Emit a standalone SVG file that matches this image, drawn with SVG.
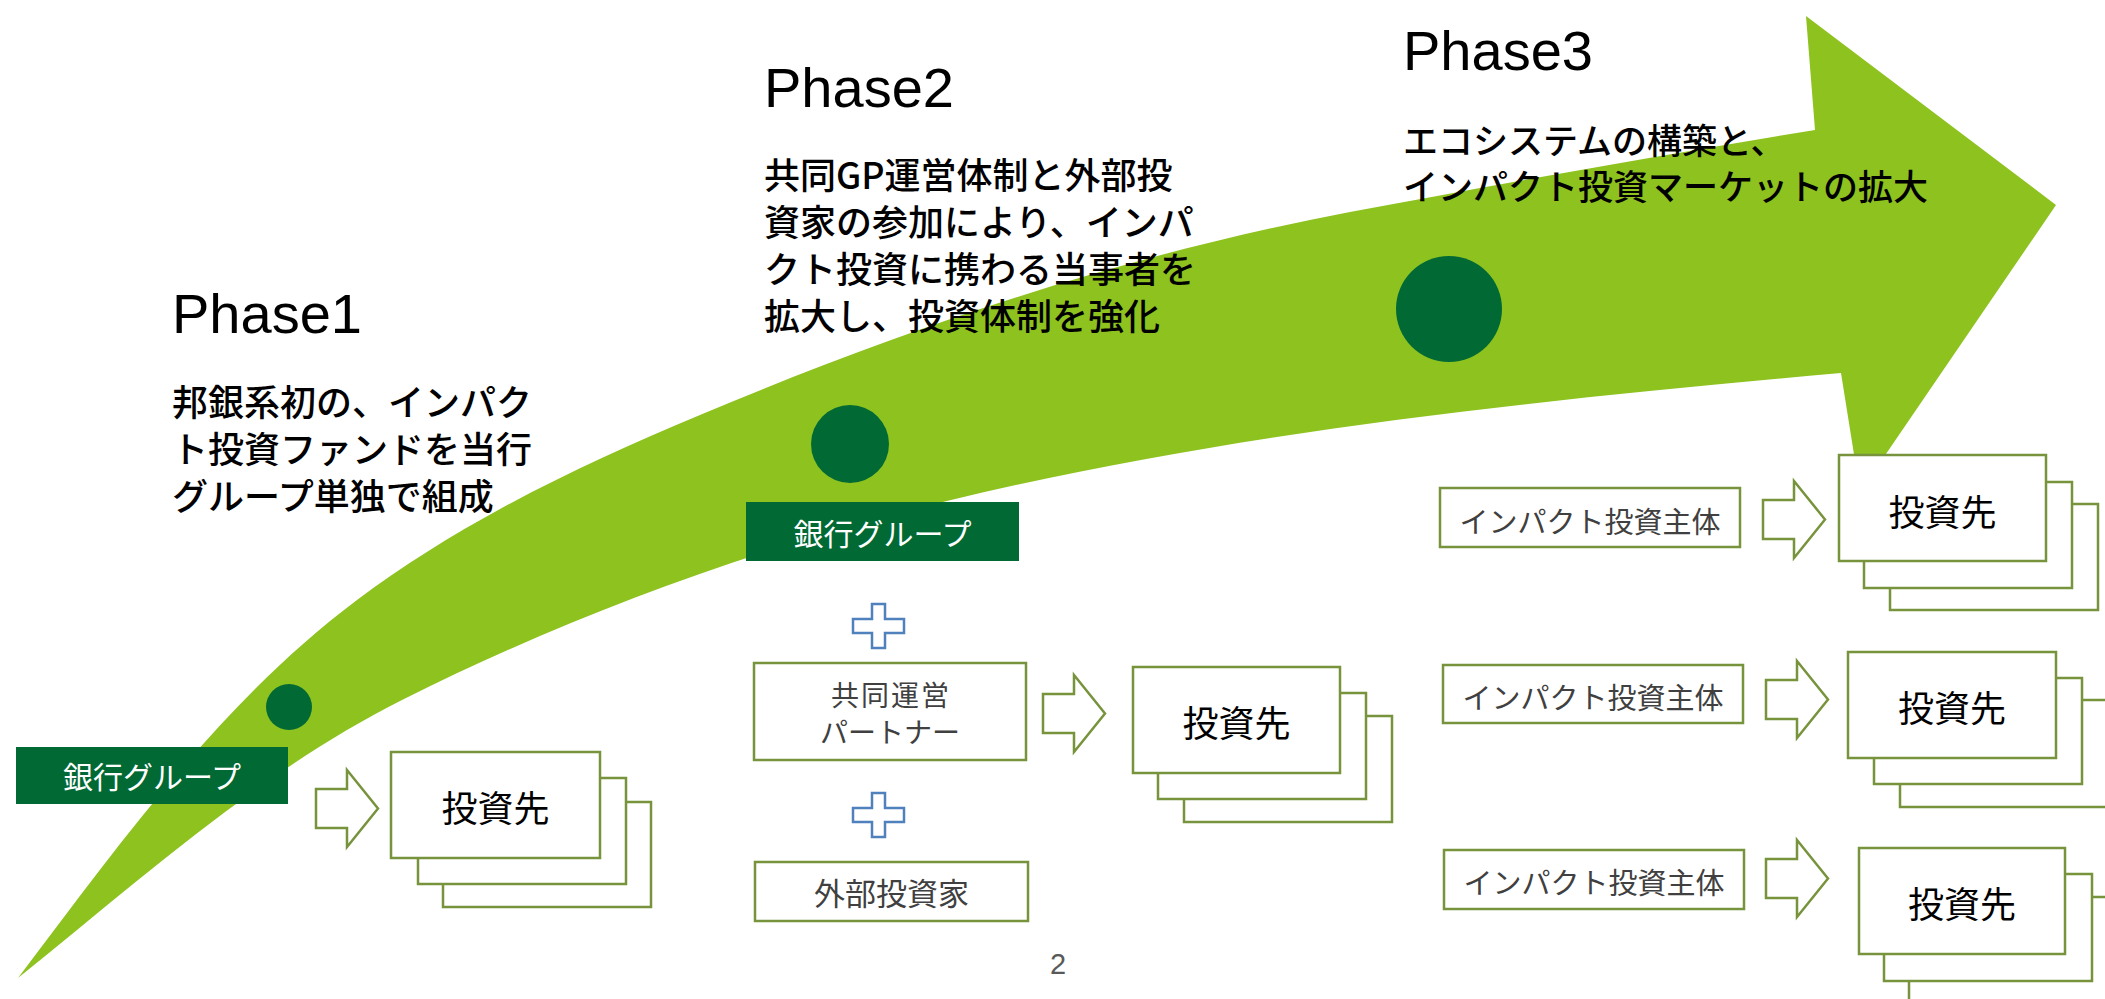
<svg xmlns="http://www.w3.org/2000/svg" width="2105" height="999" viewBox="0 0 2105 999">
<defs>
<style>
.ph{font-family:"Liberation Sans","Noto Sans CJK JP",sans-serif;font-size:56px;fill:#000;}
.desc{font-family:"Noto Sans CJK JP","Liberation Sans",sans-serif;font-size:36px;font-weight:500;fill:#000;}
.bank{fill:#006934;}
.banktxt{font-family:"Noto Sans CJK JP",sans-serif;font-size:30px;fill:#fff;text-anchor:middle;}
.box{fill:#fff;stroke:#77933C;stroke-width:2.5;}
.boxtxt{font-family:"Noto Sans CJK JP",sans-serif;font-size:30px;fill:#404040;text-anchor:middle;}
.inv{font-family:"Noto Sans CJK JP",sans-serif;font-size:36px;fill:#000;text-anchor:middle;}
.harrow{fill:#fff;stroke:#77933C;stroke-width:2.5;stroke-linejoin:miter;}
.plus{fill:#fff;stroke:#4F81BD;stroke-width:2.5;}
.dot{fill:#006934;}
</style>
<path id="ha" d="M0,19 H31 V0 L62,38.5 L31,77 V58 H0 Z"/>
<path id="pl" d="M19,0 H32 V15 H51 V29 H32 V44 H19 V29 H0 V15 H19 Z"/>
</defs>
<rect width="2105" height="999" fill="#fff"/>

<g id="big-arrow">
<path fill="#8DC21F" d="M18,978 C120,843 222,701 357,600 C461,522 580,465 700,415 C909,327 1127,254 1350,212 C1500,184 1660,155 1815,130 L1806,16 L2056,205 L1860,492 L1841,373 C1542,400 1242,430 951,500 C761,545 576,613 402,700 C261,771 141,879 18,978 Z"/>
</g>

<g id="dots">
<circle class="dot" cx="289" cy="707" r="23"/>
<circle class="dot" cx="850" cy="444" r="39"/>
<circle class="dot" cx="1449" cy="309" r="53"/>
</g>

<g id="phase1-title">
<text class="ph" x="172" y="333">Phase1</text>
<text class="desc"><tspan x="172" y="416">邦銀系初の、インパク</tspan><tspan x="172" y="463">ト投資ファンドを当行</tspan><tspan x="172" y="510">グループ単独で組成</tspan></text>
</g>

<g id="phase2-title">
<text class="ph" x="764" y="107">Phase2</text>
<text class="desc"><tspan x="764" y="189">共同GP運営体制と外部投</tspan><tspan x="764" y="236">資家の参加により、インパ</tspan><tspan x="764" y="283">クト投資に携わる当事者を</tspan><tspan x="764" y="330">拡大し、投資体制を強化</tspan></text>
</g>

<g id="phase3-title">
<text class="ph" x="1403" y="70">Phase3</text>
<text class="desc" style="font-size:35px"><tspan x="1403" y="154">エコシステムの構築と、</tspan><tspan x="1403" y="200">インパクト投資マーケットの拡大</tspan></text>
</g>

<g id="p1-bank">
<rect class="bank" x="16" y="747" width="272" height="57"/>
<text class="banktxt" x="152" y="788">銀行グループ</text>
</g>

<g id="p1-investees">
<rect class="box" x="443" y="802" width="208" height="105"/>
<rect class="box" x="418" y="778" width="208" height="106"/>
<rect class="box" x="391" y="752" width="209" height="106"/>
<text class="inv" x="495.5" y="822">投資先</text>
</g>

<g id="p2-bank">
<rect class="bank" x="746" y="502" width="273" height="59"/>
<text class="banktxt" x="882.5" y="545">銀行グループ</text>
</g>

<g id="p2-partner">
<rect class="box" x="754" y="663" width="272" height="97"/>
<text class="boxtxt" style="font-size:28px"><tspan x="891" y="706" letter-spacing="2">共同運営</tspan><tspan x="890" y="743">パートナー</tspan></text>
</g>

<g id="p2-investor">
<rect class="box" x="755" y="862" width="273" height="59"/>
<text class="boxtxt" x="891.5" y="905" style="font-size:31px">外部投資家</text>
</g>

<g id="p2-investees">
<rect class="box" x="1184" y="716" width="208" height="106"/>
<rect class="box" x="1158" y="693" width="208" height="106"/>
<rect class="box" x="1133" y="667" width="207" height="106"/>
<text class="inv" x="1236.5" y="737">投資先</text>
</g>

<g id="p3-entity1">
<rect class="box" x="1440" y="488" width="300" height="59"/>
<text class="boxtxt" x="1590" y="533" style="font-size:29px">インパクト投資主体</text>
</g>
<g id="p3-investees1">
<rect class="box" x="1890" y="504" width="208" height="106"/>
<rect class="box" x="1864" y="482" width="208" height="106"/>
<rect class="box" x="1839" y="455" width="207" height="106"/>
<text class="inv" x="1942.5" y="526">投資先</text>
</g>

<g id="p3-entity2">
<rect class="box" x="1443" y="665" width="300" height="58"/>
<text class="boxtxt" x="1593" y="709" style="font-size:29px">インパクト投資主体</text>
</g>
<g id="p3-investees2">
<rect class="box" x="1900" y="700" width="208" height="107"/>
<rect class="box" x="1874" y="678" width="208" height="106"/>
<rect class="box" x="1848" y="652" width="208" height="106"/>
<text class="inv" x="1952" y="722">投資先</text>
</g>

<g id="p3-entity3">
<rect class="box" x="1444" y="850" width="300" height="59"/>
<text class="boxtxt" x="1594" y="894" style="font-size:29px">インパクト投資主体</text>
</g>
<g id="p3-investees3">
<rect class="box" x="1909" y="897" width="208" height="106"/>
<rect class="box" x="1884" y="874" width="208" height="107"/>
<rect class="box" x="1859" y="848" width="206" height="106"/>
<text class="inv" x="1962" y="918">投資先</text>
</g>

<g id="connectors">
<use href="#ha" class="harrow" x="316" y="770"/>
<use href="#ha" class="harrow" x="1043" y="675"/>
<use href="#ha" class="harrow" x="1763" y="481"/>
<use href="#ha" class="harrow" x="1766" y="661"/>
<use href="#ha" class="harrow" x="1766" y="840"/>
<use href="#pl" class="plus" x="853" y="604"/>
<use href="#pl" class="plus" x="853" y="793"/>
</g>

<g id="page-number">
<text x="1058" y="974" text-anchor="middle" style="font-family:'Liberation Sans',sans-serif;font-size:29px;fill:#595959">2</text>
</g>
</svg>
